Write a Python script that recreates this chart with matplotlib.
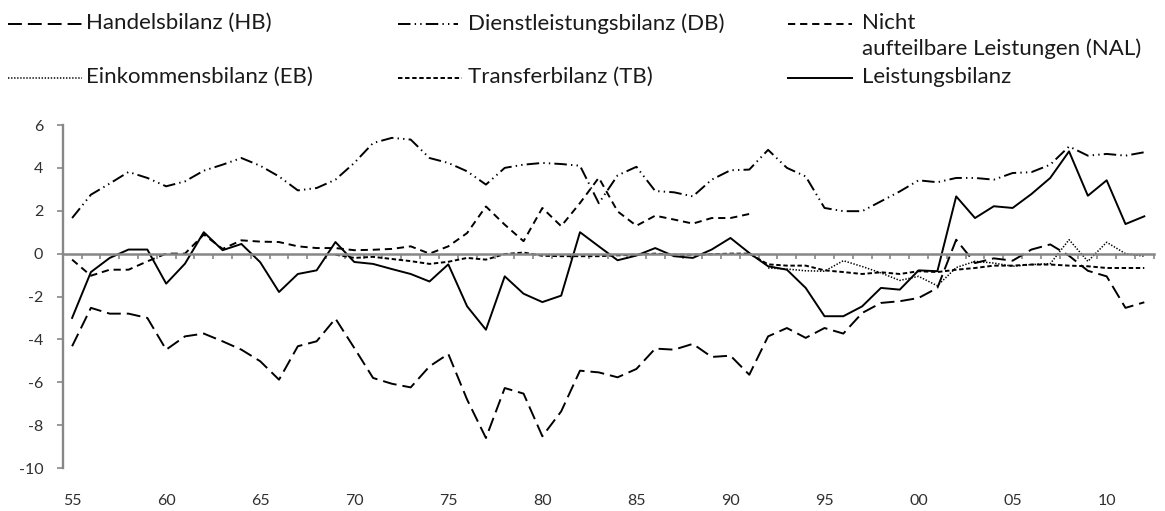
import numpy as np
import matplotlib
matplotlib.use("Agg")
import matplotlib.pyplot as plt
from matplotlib.lines import Line2D

plt.rcParams['font.family'] = ['Lato', 'DejaVu Sans']
plt.rcParams['lines.scale_dashes'] = False

years = np.arange(1955, 2013)
nan = np.nan

hb = [-4.32, -2.53, -2.8, -2.8, -3.0, -4.48, -3.86, -3.73, -4.09, -4.48,
      -5.02, -5.88, -4.32, -4.09, -3.03, -4.4, -5.8, -6.07, -6.24, -5.26,
      -4.68, -6.81, -8.6, -6.27, -6.53, -8.52, -7.36, -5.46, -5.54, -5.77,
      -5.38, -4.43, -4.48, -4.21, -4.82, -4.76, -5.65, -3.86, -3.47, -3.93,
      -3.47, -3.73, -2.77, -2.3, -2.22, -2.07, -1.6, 0.65, -0.44, -0.22,
      -0.33, 0.19, 0.43, -0.1, -0.8, -1.06, -2.53, -2.27]

db = [1.66, 2.75, 3.27, 3.81, 3.53, 3.14, 3.37, 3.87, 4.15, 4.46,
      4.1, 3.6, 2.95, 3.06, 3.45, 4.23, 5.16, 5.4, 5.32, 4.46,
      4.23, 3.84, 3.22, 4.0, 4.15, 4.23, 4.18, 4.1, 2.35, 3.65,
      4.05, 2.92, 2.86, 2.67, 3.45, 3.89, 3.92, 4.84, 4.0, 3.6,
      2.13, 1.98, 1.98, 2.44, 2.9, 3.42, 3.33, 3.53, 3.53, 3.45,
      3.76, 3.8, 4.15, 5.0, 4.57, 4.65, 4.57, 4.73]

nal = [-0.28, -1.03, -0.75, -0.75, -0.36, 0.0, 0.0, 0.89, 0.22, 0.62,
       0.56, 0.54, 0.34, 0.26, 0.26, 0.16, 0.18, 0.22, 0.34, 0.0,
       0.34, 0.96, 2.2, 1.35, 0.58, 2.13, 1.28, 2.36, 3.54, 1.97,
       1.3, 1.77, 1.59, 1.4, 1.66, 1.66, 1.85] + [nan] * 21

eb = [nan] * 37 + [-0.67, -0.72, -0.8, -0.82, -0.33, -0.6, -0.9, -1.25, -1.06, -1.5,
                   -0.65, -0.36, -0.44, -0.59, -0.51, -0.47, 0.65, -0.36, 0.53, 0.0,
                   -0.12]

tb = [nan] * 14 + [-0.05, -0.2, -0.15, -0.25, -0.35, -0.48, -0.38, -0.2, -0.28, -0.02,
                   0.05, -0.1, -0.12, -0.12, -0.12, -0.08, -0.05, 0.0, -0.05, -0.05,
                   -0.03, 0.0, 0.0, -0.5, -0.56, -0.56, -0.78, -0.86, -0.95, -0.87,
                   -0.95, -0.82, -0.86, -0.75, -0.67, -0.56, -0.56, -0.51, -0.51, -0.56,
                   -0.59, -0.67, -0.67, -0.67]

lb = [-3.0, -0.86, -0.2, 0.19, 0.19, -1.4, -0.47, 1.0, 0.16, 0.45,
      -0.4, -1.79, -0.95, -0.78, 0.54, -0.39, -0.48, -0.72, -0.95, -1.3,
      -0.5, -2.46, -3.55, -1.06, -1.87, -2.26, -1.96, 1.0, 0.34, -0.31,
      -0.09, 0.26, -0.12, -0.2, 0.19, 0.73, 0.03, -0.59, -0.75, -1.6,
      -2.92, -2.92, -2.46, -1.6, -1.68, -0.78, -0.82, 2.67, 1.66, 2.21,
      2.13, 2.78, 3.53, 4.77, 2.7, 3.42, 1.38, 1.74]

label_years = [1955, 1960, 1965, 1970, 1975, 1980, 1985, 1990, 1995, 2000, 2005, 2010]
label_text = ['55', '60', '65', '70', '75', '80', '85', '90', '95', '00', '05', '10']
y_ticks = [-10, -8, -6, -4, -2, 0, 2, 4, 6]

series = [
    ('Handelsbilanz (HB)', hb, (0, (10, 4.3))),
    ('Dienstleistungsbilanz (DB)', db, (0, (9, 3, 1, 3, 1, 3))),
    ('Nicht\naufteilbare Leistungen (NAL)', nal, (0, (5.2, 3.5))),
    ('Einkommensbilanz (EB)', eb, (0, (1, 1.2))),
    ('Transferbilanz (TB)', tb, (0, (3.2, 1.9))),
    ('Leistungsbilanz', lb, '-'),
]

W, H = 1165, 511
fig = plt.figure(figsize=(W / 100, H / 100), dpi=100)
ax = fig.add_axes([62.7 / W, 1 - 468 / H, (1153.7 - 62.7) / W, (468 - 125) / H])

for name, vals, ls in series:
    lw = 1.1 if name.startswith('Eink') else 1.4
    ax.plot(years, vals, color='black', linestyle=ls, linewidth=lw)

grey = '#878787'
ax.set_xlim(1954.5, 2012.5)
ax.set_ylim(-10, 6)
ax.spines['top'].set_visible(False)
ax.spines['right'].set_visible(False)
ax.spines['bottom'].set_position(('data', 0))
ax.spines['bottom'].set_color(grey)
ax.spines['bottom'].set_linewidth(1.8)
ax.spines['left'].set_color(grey)
ax.spines['left'].set_linewidth(1.7)

ax.set_xticks(np.arange(1954.5, 2013, 1.0))
ax.set_xticklabels([])
ax.tick_params(axis='x', direction='out', length=3.5, width=1.2, color=grey)
ax.set_yticks(y_ticks)
ax.set_yticklabels([str(v) for v in y_ticks])
ax.tick_params(axis='y', direction='out', length=4, width=1.2, color=grey,
               pad=10, labelsize=11.5, labelcolor='#303030')

sec = ax.secondary_xaxis(0)
sec.set_xticks(label_years)
sec.set_xticklabels(label_text)
sec.tick_params(length=0, pad=19, labelsize=11.5, labelcolor='#303030')
sec.spines['bottom'].set_visible(False)

# legend, laid out like the original (3 columns, 2 rows)
leg_pos = [(8, 24), (398, 24), (788, 24), (8, 78), (398, 78), (788, 78)]
leg_len = [74, 60, 64, 74, 64, 64]
text_x = [86, 468, 862, 86, 468, 862]
for (name, vals, ls), (lx, ly), ll, tx in zip(series, leg_pos, leg_len, text_x):
    lw = 1.1 if name.startswith('Eink') else 1.4
    fig.add_artist(Line2D([lx / W, (lx + ll) / W], [1 - ly / H, 1 - ly / H],
                          transform=fig.transFigure, color='black',
                          linestyle=ls, linewidth=lw))
    fig.text(tx / W, 1 - (ly - 11) / H, name, fontsize=16, color='#1a1a1a',
             ha='left', va='top', linespacing=1.3)

fig.savefig('out.png', dpi=100)
